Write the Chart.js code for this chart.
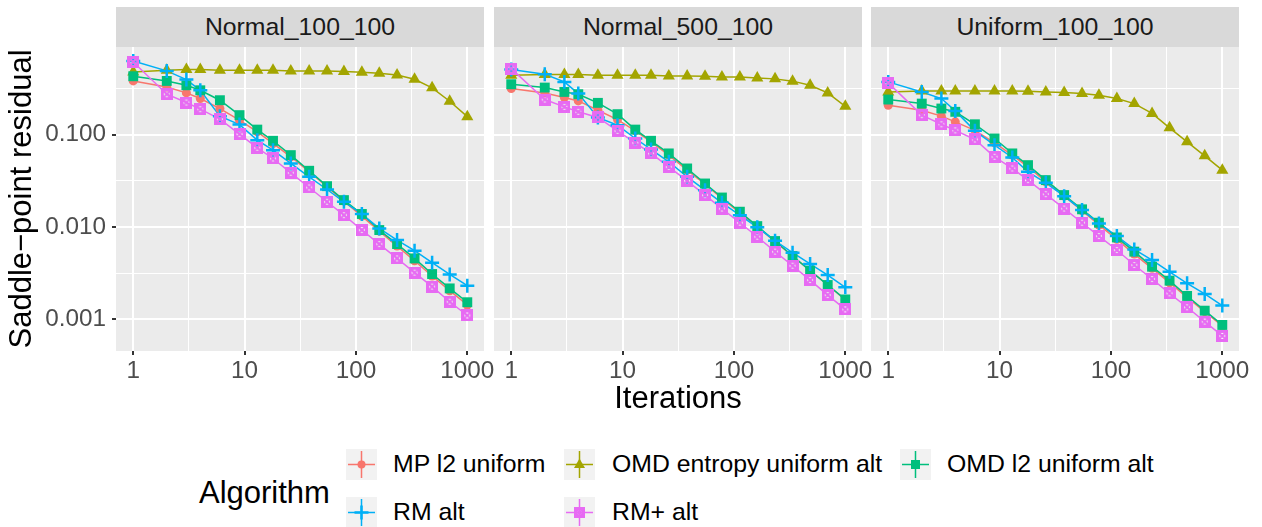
<!DOCTYPE html>
<html>
<head>
<meta charset="utf-8">
<script src="https://cdn.jsdelivr.net/npm/chart.js@4.4.1/dist/chart.umd.min.js"></script>
<style>
  html, body { margin: 0; padding: 0; background: #fff; overflow: hidden; }
  body { width: 1262px; height: 527px; position: relative; font-family: "Liberation Sans", Arial, sans-serif; }
  canvas.panel { position: absolute; top: 47px; }
  .strip { position: absolute; top: 7px; height: 40px; width: 368px; background: #D9D9D9; color: #1A1A1A;
           font-size: 24.8px; line-height: 40px; text-align: center; }
  .key { position: absolute; width: 31px; height: 31px; }
  .lab { position: absolute; font-size: 24.8px; color: #000; line-height: 31px; white-space: nowrap; }
  .legtitle { position: absolute; left: 199px; top: 475px; font-size: 31px; line-height: 36px; color: #000; }
</style>
</head>
<body>
<div class="strip" style="left:116px">Normal_100_100</div>
<div class="strip" style="left:494px">Normal_500_100</div>
<div class="strip" style="left:871px">Uniform_100_100</div>
<canvas id="p0" class="panel" width="514" height="373" style="left:0px"></canvas>
<canvas id="p1" class="panel" width="428" height="373" style="left:464px"></canvas>
<canvas id="p2" class="panel" width="422" height="373" style="left:841px"></canvas>
<div class="legtitle">Algorithm</div>
<div id="legend"></div>
<script>
// iterations (x) and series values
const iterations = [1, 2, 3, 4, 6, 9, 13, 18, 26, 38, 55, 78, 113, 162, 234, 336, 483, 695, 1000];

const algorithms = ['MP l2 uniform', 'OMD entropy uniform alt', 'OMD l2 uniform alt', 'RM alt', 'RM+ alt'];
const colors = ['#F8766D', '#A3A500', '#00BF7D', '#00B0F6', '#E76BF3'];
const panelNames = ['Normal_100_100', 'Normal_500_100', 'Uniform_100_100'];

// Normal_100_100
const mpNormal100  = [0.380, 0.327, 0.282, 0.245, 0.191, 0.143, 0.107, 0.080, 0.0574, 0.0395, 0.0272, 0.0190, 0.0131, 0.0090, 0.0062, 0.0043, 0.00294, 0.00204, 0.00143];
const entNormal100 = [0.476, 0.496, 0.505, 0.505, 0.496, 0.496, 0.496, 0.496, 0.488, 0.488, 0.488, 0.480, 0.472, 0.460, 0.440, 0.396, 0.320, 0.229, 0.156];
const l2Normal100  = [0.427, 0.380, 0.341, 0.301, 0.235, 0.162, 0.113, 0.0855, 0.0598, 0.0405, 0.0276, 0.0195, 0.0138, 0.00925, 0.00652, 0.00456, 0.00309, 0.00216, 0.00153];
const rmNormal100  = [0.625, 0.488, 0.393, 0.301, 0.158, 0.128, 0.0869, 0.0677, 0.0486, 0.0348, 0.0254, 0.0187, 0.0138, 0.00964, 0.00721, 0.00553, 0.0041, 0.00306, 0.00231];
const rmpNormal100 = [0.610, 0.273, 0.222, 0.188, 0.147, 0.101, 0.0718, 0.055, 0.0385, 0.0267, 0.0187, 0.0134, 0.00925, 0.00652, 0.00456, 0.0032, 0.00226, 0.00155, 0.0011];

// Normal_500_100
const mpNormal500  = [0.314, 0.282, 0.251, 0.231, 0.183, 0.145, 0.1096, 0.0834, 0.0598, 0.0411, 0.029, 0.0203, 0.0142, 0.0100, 0.00692, 0.00484, 0.00336, 0.00235, 0.00162];
const entNormal500 = [0.438, 0.445, 0.445, 0.445, 0.438, 0.438, 0.438, 0.438, 0.431, 0.431, 0.427, 0.420, 0.420, 0.410, 0.400, 0.378, 0.341, 0.282, 0.202];
const l2Normal500  = [0.350, 0.322, 0.289, 0.273, 0.220, 0.166, 0.113, 0.0855, 0.0624, 0.0429, 0.0295, 0.0208, 0.0146, 0.0102, 0.00703, 0.00484, 0.00336, 0.00235, 0.00164];
const rmNormal500  = [0.505, 0.449, 0.371, 0.277, 0.153, 0.126, 0.0905, 0.0689, 0.0507, 0.0348, 0.025, 0.0182, 0.0134, 0.00989, 0.00708, 0.00526, 0.00397, 0.00301, 0.00222];
const rmpNormal500 = [0.517, 0.239, 0.199, 0.176, 0.153, 0.1096, 0.0813, 0.0624, 0.0447, 0.0315, 0.0221, 0.0158, 0.0111, 0.00783, 0.0054, 0.0038, 0.00266, 0.00183, 0.00128];

// Uniform_100_100
const mpUniform100  = [0.207, 0.183, 0.158, 0.137, 0.111, 0.0813, 0.0598, 0.0447, 0.0308, 0.0215, 0.015, 0.0105, 0.00733, 0.00508, 0.00356, 0.00249, 0.00173, 0.00121, 0.000847];
const entUniform100 = [0.289, 0.296, 0.296, 0.296, 0.296, 0.296, 0.296, 0.294, 0.289, 0.284, 0.277, 0.266, 0.245, 0.216, 0.169, 0.118, 0.0834, 0.0588, 0.0411];
const l2Uniform100  = [0.239, 0.216, 0.191, 0.176, 0.129, 0.0905, 0.0624, 0.0466, 0.0321, 0.0221, 0.0155, 0.0111, 0.00769, 0.0054, 0.00371, 0.00262, 0.00179, 0.00124, 0.000869];
const rmUniform100  = [0.371, 0.289, 0.245, 0.180, 0.1096, 0.0767, 0.0564, 0.0395, 0.030, 0.0215, 0.0152, 0.0109, 0.00796, 0.00571, 0.00438, 0.00327, 0.00245, 0.00188, 0.00141];
const rmpUniform100 = [0.362, 0.162, 0.129, 0.111, 0.0883, 0.0574, 0.0429, 0.0321, 0.0226, 0.0158, 0.0111, 0.00796, 0.00562, 0.00387, 0.00273, 0.00191, 0.00135, 0.000944, 0.000661];

const panelValues = [
  [mpNormal100, entNormal100, l2Normal100, rmNormal100, rmpNormal100],
  [mpNormal500, entNormal500, l2Normal500, rmNormal500, rmpNormal500],
  [mpUniform100, entUniform100, l2Uniform100, rmUniform100, rmpUniform100]
];

const xTicks = [1, 10, 100, 1000];
const xTickLabels = ['1', '10', '100', '1000'];
const yTicks = [0.001, 0.01, 0.1];
const yTickLabels = ['0.001', '0.010', '0.100'];

const FONT = '"Liberation Sans", Arial, sans-serif';

// square with an X inside (ggplot shape 7)
function squareCross(size, color) {
  const c = document.createElement('canvas');
  c.width = size; c.height = size;
  const g = c.getContext('2d');
  g.strokeStyle = color;
  g.lineWidth = 3;
  g.strokeRect(1.5, 1.5, size - 3, size - 3);
  g.lineWidth = 2;
  g.beginPath();
  g.moveTo(2, 2); g.lineTo(size - 2, size - 2);
  g.moveTo(size - 2, 2); g.lineTo(2, size - 2);
  g.stroke();
  return c;
}

const pointStyles = ['circle', 'triangle', 'rect', 'cross', squareCross(12, colors[4])];
const pointRadius = [4.5, 7, 7, 7, 6];

// ticks at the decades plus a minor line half-way (in log space)
function withMinors(majors, min, max) {
  const out = [];
  const lo = majors[0] / 10, hi = majors[majors.length - 1] * 10;
  const all = [lo].concat(majors, [hi]);
  for (let i = 0; i < all.length; i++) {
    if (all[i] >= min && all[i] <= max) out.push({ value: all[i], major: true });
    if (i < all.length - 1) {
      const m = Math.sqrt(all[i] * all[i + 1]);
      if (m >= min && m <= max) out.push({ value: m, major: false });
    }
  }
  return out;
}

function labelFor(v, ticks, labels) {
  for (let i = 0; i < ticks.length; i++) {
    if (Math.abs(Math.log10(v) - Math.log10(ticks[i])) < 1e-6) return labels[i];
  }
  return '';
}

const panelBg = {
  id: 'panelBg',
  beforeDraw(chart) {
    const { ctx, chartArea: a } = chart;
    ctx.save();
    ctx.fillStyle = '#EBEBEB';
    ctx.fillRect(a.left, a.top, a.right - a.left, a.bottom - a.top);
    ctx.restore();
  }
};

const xMin = Math.pow(10, -0.15), xMax = Math.pow(10, 3.15);
const yMin = Math.pow(10, -3.343), yMax = Math.pow(10, -0.053);

const padding = [{ left: 0, right: 30 }, { left: 30, right: 30 }, { left: 30, right: 24 }];

panelValues.forEach((vals, p) => {
  const datasets = [];
  vals.forEach((series, k) => {
    const pts = iterations.map((it, i) => ({ x: it, y: series[i] }));
    datasets.push({
      label: algorithms[k] + ' line',
      data: pts,
      borderColor: colors[k],
      borderWidth: 1.5,
      pointRadius: 0,
      fill: false,
      order: 20 - k
    });
    datasets.push({
      label: algorithms[k],
      data: pts,
      showLine: false,
      pointStyle: pointStyles[k],
      pointRadius: pointRadius[k],
      pointBackgroundColor: colors[k],
      pointBorderColor: colors[k],
      pointBorderWidth: k === 3 ? 2.5 : 0,
      order: 5 - k
    });
  });

  new Chart(document.getElementById('p' + p).getContext('2d'), {
    type: 'line',
    data: { datasets },
    options: {
      responsive: false,
      animation: false,
      events: [],
      layout: {
        autoPadding: false,
        padding: { left: padding[p].left, right: padding[p].right, top: 0, bottom: 0 }
      },
      plugins: { legend: { display: false }, tooltip: { enabled: false } },
      scales: {
        x: {
          type: 'logarithmic',
          position: 'bottom',
          min: xMin,
          max: xMax,
          afterBuildTicks: s => { s.ticks = withMinors(xTicks, xMin, xMax); },
          afterFit: s => { s.height = 69; s.paddingLeft = 0; s.paddingRight = 0; },
          ticks: {
            autoSkip: false, maxRotation: 0, minRotation: 0, padding: 1.5,
            color: '#4D4D4D', font: { family: FONT, size: 24.3 },
            callback: v => labelFor(v, xTicks, xTickLabels)
          },
          grid: {
            color: '#FFFFFF',
            lineWidth: c => (c.tick && c.tick.major ? 2 : 1),
            tickColor: c => (c.tick && c.tick.major ? '#333333' : 'rgba(0,0,0,0)'),
            tickLength: 4,
            tickWidth: 2
          },
          border: { display: false },
          title: {
            display: p === 1, text: 'Iterations', color: '#000',
            font: { family: FONT, size: 31 }, padding: { top: 0, bottom: 2 }
          }
        },
        y: {
          type: 'logarithmic',
          position: 'left',
          min: yMin,
          max: yMax,
          afterBuildTicks: s => { s.ticks = withMinors(yTicks, yMin, yMax); },
          afterFit: s => { s.width = p === 0 ? 116 : 0; s.paddingTop = 0; s.paddingBottom = 0; },
          ticks: {
            display: p === 0, autoSkip: false, padding: 6,
            color: '#4D4D4D', font: { family: FONT, size: 24.3 },
            callback: v => labelFor(v, yTicks, yTickLabels)
          },
          grid: {
            color: '#FFFFFF',
            lineWidth: c => (c.tick && c.tick.major ? 2 : 1),
            tickColor: c => (c.tick && c.tick.major ? '#333333' : 'rgba(0,0,0,0)'),
            drawTicks: p === 0,
            tickLength: 4,
            tickWidth: 2
          },
          border: { display: false },
          title: {
            display: p === 0, text: 'Saddle\u2212point residual', color: '#000',
            font: { family: FONT, size: 31 }, padding: { top: 4, bottom: 0 }
          }
        }
      }
    },
    plugins: [panelBg]
  });
});

// legend: keys drawn on small canvases, labels as text
const keyCols = [346, 564, 900];
const labCols = [393, 612, 947];
const keyRows = [449, 497];
const legendOrder = [[0, 0], [1, 0], [2, 0], [0, 1], [1, 1]];
const legend = document.getElementById('legend');

function drawKey(g, k) {
  const c = 15.5;
  g.fillStyle = '#F2F2F2';
  g.fillRect(0, 0, 31, 31);
  g.strokeStyle = colors[k];
  g.lineWidth = 1.5;
  g.beginPath();
  g.moveTo(2, c); g.lineTo(29, c);
  g.moveTo(c, 2); g.lineTo(c, 29);
  g.stroke();
  g.fillStyle = colors[k];
  if (k === 0) {
    g.beginPath(); g.arc(c, c, 4, 0, Math.PI * 2); g.fill();
  } else if (k === 1) {
    g.beginPath(); g.moveTo(c, c - 6); g.lineTo(c + 5.5, c + 3.5); g.lineTo(c - 5.5, c + 3.5); g.closePath(); g.fill();
  } else if (k === 2) {
    g.fillRect(c - 4.5, c - 4.5, 9, 9);
  } else if (k === 3) {
    g.lineWidth = 2.5;
    g.beginPath(); g.moveTo(c - 7, c); g.lineTo(c + 7, c); g.moveTo(c, c - 7); g.lineTo(c, c + 7); g.stroke();
  } else {
    g.drawImage(squareCross(11, colors[4]), c - 5.5, c - 5.5);
  }
}

algorithms.forEach((name, k) => {
  const [col, row] = legendOrder[k];
  const c = document.createElement('canvas');
  c.width = 31; c.height = 31;
  c.className = 'key';
  c.style.left = keyCols[col] + 'px';
  c.style.top = keyRows[row] + 'px';
  legend.appendChild(c);
  drawKey(c.getContext('2d'), k);
  const t = document.createElement('div');
  t.className = 'lab';
  t.style.left = labCols[col] + 'px';
  t.style.top = (keyRows[row] - 1) + 'px';
  t.textContent = name;
  legend.appendChild(t);
});
</script>
</body>
</html>
